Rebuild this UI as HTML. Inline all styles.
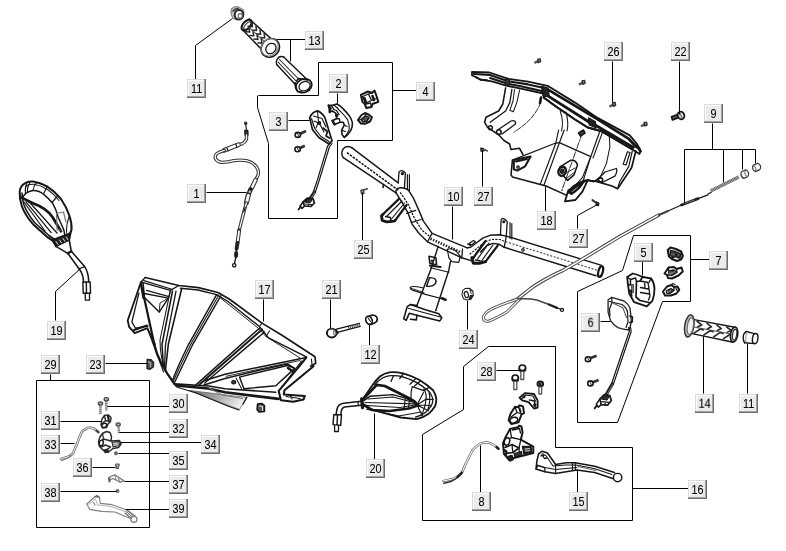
<!DOCTYPE html>
<html><head><meta charset="utf-8"><title>Parts diagram</title>
<style>
html,body{margin:0;padding:0;background:#fff;}
svg{display:block;will-change:transform}
text{font-family:"Liberation Sans",sans-serif;font-size:12.6px;fill:#000;text-anchor:middle;stroke:#000;stroke-width:0.08px}
</style></head><body>
<svg width="786" height="551" viewBox="0 0 786 551">
<rect width="786" height="551" fill="#fff"/>
<!-- part 17 front cover -->
<defs><linearGradient id="g17" x1="0" y1="0" x2="1" y2="0.25"><stop offset="0" stop-color="#666"/><stop offset="0.55" stop-color="#aaa"/><stop offset="1" stop-color="#eee"/></linearGradient></defs>
<g fill="none" stroke="#161616" stroke-width="1.30" stroke-linejoin="round" stroke-linecap="round">
<path d="M190,390.5 L247,397.5 L239.5,409.5 L215,400.5 Z" fill="url(#g17)" stroke="#666" stroke-width="0.78"/>
<!-- outer top edge -->
<path d="M145.2,277.5 L178.8,285.5 L198.4,287.6 L218,292.5 L230,299.5 L262,323.1 L281.6,335 L315,356.8 L315.7,363.3 L310.6,366.2" stroke-width="1.69"/>
<path d="M180.5,288.2 L198,290 L216.6,294.6 L228,301.5 L259.4,326.5 L268.5,337.9 L306.3,356.8" stroke-width="1.43"/>
<path d="M219,296.8 L258,328 L266,336.5 L300,358" stroke-width="0.91"/>
<path d="M262,323.1 L259.4,326.5 M269.6,330.7 L266,336.5" stroke-width="1.04"/>
<path d="M311.4,359 L312.1,365.5" stroke-width="1.17"/>
<!-- tip Y -->
<path d="M306.3,357.5 L297.6,368.4 L278.7,390.9 L280.9,400.3 L293.2,401.8 L303.4,399.6 L304.8,396 L283.8,394.5 L284.5,390.2 L313.5,366.2" stroke-width="2.08"/>
<path d="M301.5,361 L281,388.5" stroke-width="1.17"/>
<path d="M286,396.5 L300,398.5 M290,395 L292,399" stroke-width="1.04"/>
<!-- top-left box -->
<path d="M145.2,277.5 L141,282 L143.1,282.7 L170.4,290.4 L178.8,285.5"/>
<path d="M143.8,280.6 L171.1,289"/>
<path d="M141,282 L127.7,320.5 L129.1,326.8 L134.7,333.1 L147.3,328.2 L155,344.3" stroke-width="1.82"/>
<path d="M138.9,293.2 L131.9,321.9 L135.4,328.2 L148,326.1" />
<path d="M134,330 L147,325.5" stroke-width="2.08"/>
<path d="M143.1,282.7 L143.1,293.2 L168.3,298.1 L159.2,312.1 L144.5,297.4 Z" stroke-width="1.43"/>
<path d="M146.6,290.4 L169,296.7 L170.4,290.4"/>
<path d="M159.2,312.1 L160,303 L168.3,298.1" stroke-width="0.91"/>
<path d="M143.1,293 L154.3,344.3 Q158,362 174.5,384" stroke-width="2.21"/>
<path d="M141,284 L143.5,298" stroke-width="2.34"/>
<path d="M147.3,328.2 L163.6,372" stroke-width="1.17"/>
<!-- left band -->
<path d="M172.5,291.1 L162,344.3 L163.3,366" stroke-width="1.56"/>
<path d="M176,291.1 L165.5,344.3 L164.5,368"/>
<path d="M181.6,289 L168.3,344.3 L165.5,370" stroke-width="1.56"/>
<path d="M170.4,290.4 L160,340 Q160,358 166,372" stroke-width="1.04"/>
<!-- spoke 2 -->
<path d="M216.6,294.6 L188.6,344.3 Q178,366 172.4,380.4" stroke-width="1.43"/>
<path d="M218.8,295 L190.8,344.3 Q180,366 173.5,381" stroke-width="1.04"/>
<path d="M220.8,295.8 L192.8,344.3 Q182,367 174.8,382" stroke-width="1.43"/>
<!-- spoke 3 -->
<path d="M259.4,328.2 L196.2,384.6" stroke-width="1.43"/>
<path d="M262,329.5 L199.5,384.4" stroke-width="1.95"/>
<path d="M264.5,332 L204.7,383" stroke-width="1.43"/>
<!-- spoke 4 -->
<path d="M306.3,357.5 L260,367 L225,374.2 L205,380.5" stroke-width="1.56"/>
<path d="M294.7,368.4 L287.4,364 L260,370 L225,378.5 L204,385" stroke-width="1.56"/>
<path d="M300,360.5 L262,368.5 L226,376.3" stroke-width="0.91"/>
<!-- bottom edge -->
<path d="M174.5,383.9 L208.8,386 L225,388.7 L275.8,392.3" stroke-width="1.56"/>
<path d="M176,385.5 L208,388.5 L225,392.3 L278.7,398.9" stroke-width="2.60"/>
<path d="M176.6,387 L196.2,393 L228.4,406.3 L239,410" stroke-width="1.04"/>
<path d="M208.8,388 L222.8,395.1 L242.4,398.6" stroke="#777" stroke-width="1.04"/>
<!-- lower right triangle -->
<path d="M239.5,377.1 L287.4,365.5 L294.7,368.4 L275.8,385.8 L243.9,388.7 Z" stroke-width="1.43"/>
<path d="M236,378 L241.5,388.5" stroke-width="1.04"/>
<path d="M288,368 L293,371.5" stroke-width="2.60"/>
<ellipse cx="233.7" cy="382.2" rx="2.1" ry="1.7" fill="#333" stroke-width="1.04"/>
<path d="M246.8,397.4 L243,404" stroke-width="1.30"/>
<!-- clip -->
<path d="M257.5,404 L262,403.5 L264.5,405.5 L264.5,411.5 L259,412 L257,409.5 Z" fill="#555" stroke="#111" stroke-width="1.43"/>
<path d="M259.5,406 L262.5,406.5 L262.5,410.5" stroke="#ddd" stroke-width="1.04"/>
</g>
<!-- part 18 rear cover -->
<g fill="none" stroke="#161616" stroke-width="1.30" stroke-linejoin="round" stroke-linecap="round">
<!-- rim -->
<path d="M472,72 L489.5,72.5 L508.4,78.8 L528,81.6 L547.6,85.8 L575,102.6 L597.6,117.9 L629.8,135.4 L636.8,143.8 L640.3,150 L639.5,154 L631.6,149 L601.4,131.2 L587.8,127.5 L575,119.5 L556,106.5 L543.9,97.8 L543.4,93.5 L521,88.6 L507,85.8 L493,81.6 L480.4,79.5 L472,75.3 Z" fill="#fff" stroke-width="1.82"/>
<path d="M474,74 L490,75 L508,81.2 L528,84.4 L546.5,88.5" stroke-width="2.08"/>
<path d="M490,78 L507,83.5 L522,86.5 L543.9,91.5" stroke-width="1.95"/>
<path d="M548.4,89.8 L597.3,119.2 L628.1,138.3 L636.5,147" stroke-width="2.73"/>
<path d="M543.9,93.4 L590.2,122.7 L594.2,124.5 L633.4,147.4" stroke-width="2.86"/>
<path d="M543.9,97.8 L556,106.5 L575,119.5 L587.8,127.5 L601.4,131.2 L631.6,149" stroke-width="1.95"/>
<path d="M541.5,86.2 L548.2,88 L549.3,96.5 L543,96.5 Z" fill="#222" stroke-width="1.04"/>
<path d="M588.5,117.8 L595.5,121.8 L596,128 L589,124.8 Z" fill="#222" stroke-width="1.04"/>
<path d="M505.5,79 L509.5,80 L509.5,85.5 L505.5,84.8 Z" fill="#333" stroke-width="0.91"/>
<path d="M476,77 L481,80 L487,80" stroke-width="1.56"/>
<path d="M637,146 L640.6,151.5" stroke-width="2.60"/>
<!-- left flap -->
<path d="M505.6,87.9 L502.8,104 L498.6,111 L486,117.3 L484.6,122.2 L487.4,127.1 L498.6,134.8 L504,140.5 L509.6,144 L511,149.6 L519.4,148.2 L522.9,154.5" stroke-width="1.56"/>
<path d="M511.9,89.3 L509.8,102.6 L505.6,111 L490.2,122.2"/>
<path d="M519.6,90 L516.8,102.6 L513.3,111.7 L509.8,110.3 L513,101 L514.5,89.5" stroke-width="1.04"/>
<path d="M498.6,129.2 L511,121 Q516,119.5 515.5,124 L502,134" />
<circle cx="498.8" cy="132" r="2.3" stroke-width="1.56"/>
<circle cx="490.4" cy="127.8" r="2" stroke-width="1.43"/>
<path d="M540.6,102.6 Q534,120 514,132" stroke-width="0.91" stroke-dasharray="5 1.5"/>
<path d="M541,97.5 L540,103" stroke-width="2.60"/>
<!-- lower-left panel -->
<path d="M512.4,160.1 L555.1,143.3 L559.3,142.6 L590.8,156.6" stroke-width="1.17"/>
<path d="M512.4,160.1 L511,174.8 L512.4,176.9 L546,186 L566.3,195.1" stroke-width="1.56"/>
<path d="M513.8,160.1 L530.6,156.6 L525,166.4 L517.3,170.6 L513.8,169.2 Z" stroke-width="2.08"/>
<path d="M516,161.5 L527,159 " stroke-width="2.08"/>
<circle cx="518" cy="167" r="1.2"/>
<path d="M558.6,130 L555.8,143.3 L540.4,183.9" stroke-width="1.17"/>
<path d="M564.2,130 L559.3,143 L543.9,185.3" stroke-width="1.17"/>
<path d="M560.2,111 Q564,122 561.5,131 M566,112 Q569,124 567,131" stroke-width="1.04"/>
<!-- knob -->
<ellipse cx="562.1" cy="171.3" rx="3.6" ry="4.6" transform="rotate(20 562.1 171.3)" stroke-width="2.47"/>
<ellipse cx="562.1" cy="171.3" rx="1.3" ry="1.9" transform="rotate(20 562.1 171.3)" fill="#444" stroke-width="1.69"/>
<path d="M560,166.8 L570.5,160.3 Q576,159.5 577.5,165 L574,174.8 L567.7,180.4 L563.5,176" stroke-width="1.56"/>
<path d="M566,173 L575,168 M567,178 L573.5,173" stroke-width="0.91"/>
<path d="M582.4,132.8 L561.4,191.6" stroke-width="0.91" stroke-dasharray="6 1.5 1.5 1.5"/>
<!-- clip on rim underside -->
<path d="M578.5,133 L583.5,130 L585,133 L580.5,136 Z" fill="#444" stroke-width="1.56"/>
<!-- right tab -->
<path d="M568.4,190.2 L588,179.7 L582.4,191.6 L575.4,200 L564.9,201.4 Z" stroke-width="1.82"/>
<path d="M568.6,191.5 Q574,184.5 583.5,181.3 Q580,188.5 571.5,193.8 Z" fill="#fff" stroke-width="2.47"/><path d="M571,191.5 Q576,186.5 581,184" stroke-width="1.43"/>
<path d="M588,179.7 L593.6,181.8 L600,177.6" stroke-width="1.56"/>
<!-- right side -->
<path d="M590.8,156.6 L582.4,177.6 L566.3,195.1" stroke-width="1.17"/>
<path d="M600.4,129.8 L590.3,158 L583.3,180.4" stroke-width="1.17"/>
<path d="M603,131 L593,158" stroke-width="1.04"/>
<path d="M609.2,132.8 L609.9,146.8 L606.4,163.6 L600,177.6" stroke-width="1.04"/>
<path d="M635.8,151 L631.6,167.8 L617.6,188.8 L612,186 L595.2,181.1 L584,180.4 L570,190.2" stroke-width="1.69"/>
<path d="M632.3,151 L628.8,166.4 L619.7,181.8 L618,187" stroke-width="1.17"/>
<path d="M627.4,151.7 L630,152.5 L626,165 L623.2,164.3 Z" stroke-width="1.17"/>
<path d="M616.2,168.5 L605,172 L597.3,179.7 L602.2,182.5 L614.8,176.2 Q618,171 616.2,168.5 Z" stroke-width="1.30"/>
<circle cx="600.5" cy="180.1" r="2.2" stroke-width="1.56"/>
</g>
<!-- part 10 handlebar -->
<g fill="none" stroke="#161616" stroke-width="1.30" stroke-linejoin="round" stroke-linecap="round">
<!-- left tube -->
<path d="M351.7,147.6 L398.2,182.9 M343.3,157.6 L396,192.8" stroke-width="1.43"/>
<path d="M351.7,147.6 Q346,144.8 343,149.2 Q340.5,154 343.3,157.6" stroke-width="1.43"/>
<path d="M347.5,153 L398,190" stroke-width="1.56" stroke-dasharray="1.2 2.4"/>
<path d="M383.5,184.5 L383,187.5" stroke-width="1.56"/>
<!-- left tab -->
<path d="M398.2,182.9 L399,172.2 Q401.5,168.5 405.4,173 L404.4,188.2" stroke-width="1.30"/>
<circle cx="402.4" cy="173.6" r="1" fill="#222"/>
<path d="M407.4,174.5 L407.4,189.8 M409.4,174.5 L409.4,191" stroke-width="1.17"/>
<!-- bend -->
<path d="M396,192.8 Q395.5,189 398.2,188.2 Q403,187 408.2,189.8 L413.5,198.2 L418.9,210.4 L423.4,221.1 L432.1,233.4 L467.2,247.9" stroke-width="1.43"/>
<path d="M396,192.8 L402.8,203.5 L408.2,213.4 L412,224.1 L418.9,233.3 L427.5,241.8 L461.8,257.8" stroke-width="1.43"/>
<path d="M400.5,192.8 L408.2,204.3 L414.3,218 L421.9,230.2 L429.5,236.3" stroke-width="1.30" stroke-dasharray="1.2 2.2"/>
<path d="M430.5,238.7 L461.1,252.5" stroke-width="2.60" stroke-dasharray="1.4 1.4" stroke-linecap="butt"/>
<path d="M406.6,213.4 L415.8,210.4 M411.2,222.6 L421.1,219.5 M427.5,241.8 L432.1,233.4 M461.8,257.8 L462.5,249" stroke-width="1.30"/>
<!-- left brace -->
<path d="M399,198.9 L383,214.2 M406.6,205 L395.2,220.3" stroke-width="2.21"/>
<path d="M402,201 L387,216 M404.5,203 L391.5,219" stroke-width="1.17"/>
<path d="M383,214.2 L381.5,215.7 L382.2,220.3 L386.8,221.8 L394.4,221.1 L395.2,220.3" stroke-width="2.86"/>
<path d="M385.5,216.5 L390.5,217.5 L390.5,221" stroke-width="1.30"/>
<!-- elbow to right tube -->
<path d="M467.2,247.9 L470.6,247.3 L476.3,243 L482.8,238.1 L490,235.3 L499.2,234.7 L506.3,236.1" stroke-width="1.43"/>
<path d="M461.8,257.8 L471.8,260.9" stroke-width="1.43"/>
<path d="M480.5,252 L486.9,245.5 L493,243.4 L499,244.2 L504.2,247.3" stroke-width="1.43"/>
<path d="M470,254 L478,247.5 L484.5,242 L492,239.3 L500,239.5 L505.5,241.8" stroke-width="1.17" stroke-dasharray="1.2 2.2"/>
<!-- right tab -->
<path d="M500.5,235 L501.1,219.8 Q503,216.5 507.2,221.7 L506.3,236.1" stroke-width="1.30"/>
<circle cx="503.8" cy="221.8" r="0.9" fill="#222"/>
<path d="M510,222.6 L510,238.5 M511.8,223.5 L511.8,239" stroke-width="1.17"/>
<!-- right brace -->
<path d="M485.5,241 L473.3,257.8 M497.7,245.6 L485.5,261.6" stroke-width="2.21"/>
<path d="M489,243 L477.5,259 M493,245 L481.5,261" stroke-width="1.17"/>
<path d="M473.3,257.8 L471.8,257.8 L473.3,263.2 L479.4,263.2 L485.5,261.6" stroke-width="2.99"/>
<path d="M475.5,260 L480,260.8" stroke-width="1.56"/>
<!-- right tube -->
<path d="M506.3,236.1 L601.7,265.4 M504.2,247.3 L596,275.8" stroke-width="1.43"/>
<path d="M506.3,236.1 L504.2,247.3" stroke-width="1.30"/>
<path d="M506,241.8 L597,270.2" stroke="#444" stroke-width="1.10" stroke-dasharray="1.2 2.4"/>
<ellipse cx="600.6" cy="271.6" rx="2.2" ry="5.5" transform="rotate(15 600.6 271.6)" fill="#fff" stroke-width="2.21"/>
<circle cx="523" cy="249.9" r="1.2" stroke-width="1.17"/>
<!-- stem -->
<path d="M438.2,246.4 L430.6,270 L416.9,305.6 M450.4,261.6 L448.9,270 L435.7,310.7" stroke-width="1.43"/>
<path d="M429,256.3 L435.9,257.8 L436.6,264.7 L429.8,263.2 Z" stroke-width="1.56"/>
<circle cx="432" cy="260.9" r="1" stroke-width="1.04"/>
<path d="M429.8,265.5 L440.5,267" stroke-width="1.95"/>
<path d="M430.5,267.7 L448.9,272.3" stroke-width="1.04"/>
<path d="M429.6,277.6 Q437.5,277.5 435.7,283.2 Q433,287 426.6,286.3 Z" stroke-width="1.43"/>
<path d="M447.3,249.4 L448.9,257.8 L451.9,261.6 L458.8,262.4 L460.3,256.3" stroke-width="1.17"/>
<path d="M447.3,249.4 Q452,247.5 456,251 L460.3,256.3" stroke-width="1.17"/>
<!-- ring clip -->
<path d="M422.5,287.8 Q412,285.5 410.3,287.3 Q410,289.5 413.3,290.4 L425.5,294.4 L444.9,299.5" stroke-width="1.17"/>
<path d="M411.5,288.5 L424,292.5" stroke-width="0.91"/>
<path d="M442,298.3 L445.5,299.7" stroke-width="2.60"/>
<!-- base -->
<path d="M416.9,305.6 L410.3,304.6 L407.2,306.6 L403.7,318.9 L406.2,320.4 L409.2,313.3 L416.9,315.3 L416.4,319.9 L410.5,319.3" stroke-width="1.56"/>
<path d="M410.3,304.6 L425.5,309.7 L438.8,313.8 L441.8,317.8 L439.8,320.9 L416.9,315.3" stroke-width="1.56"/>
<path d="M408.2,308.2 L424.5,312.7 L440.5,317" stroke-width="1.17"/>
<!-- screw on top -->
<path d="M469,243.5 L473.5,240.5 L475.5,241.8 L471.5,245 Z M467.5,244 L470.5,245.5" stroke-width="1.17"/>
</g>
<!-- nut 24 -->
<g fill="none" stroke="#222" stroke-width="1.04" stroke-linejoin="round">
<path d="M465,288.6 L469.5,288.2 L472.8,291 L473.3,295.5 L470.8,299.3 L467,300 L463.5,298.8 L462,294.5 L462.6,290.6 Z" fill="#fff"/>
<path d="M470.5,295.5 L473.2,295.3 L470.8,299.3 L469.3,298.5 Z" fill="#222"/>
<path d="M469.5,288.2 L470,290.5 L472.8,291 M470,290.5 L471.5,294" stroke-width="0.91"/>
<ellipse cx="466.4" cy="294.6" rx="2" ry="3.1" transform="rotate(-15 466.4 294.6)" fill="#fff" stroke-width="1.30"/>
</g>
<!-- mirror 19 -->
<g transform="translate(0,1)" fill="none" stroke="#161616" stroke-width="1.30" stroke-linejoin="round" stroke-linecap="round">
<path d="M19.7,191 Q20,185 24.6,182.6 Q28,180 33,180.5 Q40,181.5 47,185.4 Q55,190.5 61,198 Q66.5,206 69.4,214.8 Q72,222.5 71.5,228.8 Q70.5,233.5 66.6,235.8 L55.4,241.4 L47,235.8 L33,223.2 Q25,214 21.8,205 Q19.5,198 19.7,191 Z" stroke-width="2.02"/>
<path d="M22,192 Q22,197.5 24,204 Q27.5,213 35,222 L49,234.5 L56,239.5" stroke-width="1.56"/>
<path d="M23.2,195.2 Q27,190.5 33,189.6 Q39,189.5 44.2,193.8 Q49,197.5 52.6,202.2 Q56,208 58.2,216.2 L63.8,228.8 L65.2,235.8" stroke-width="1.49"/>
<path d="M21.8,196.6 Q27,199.5 33,202.2 Q39,204.5 44.2,207.8 Q49,211 52.6,216.2 L61,230.2" stroke-width="2.73"/>
<path d="M26,200.8 L51.2,231.6 M28,199.5 L57,232 M24,201 L45,230" stroke-width="1.23"/>
<path d="M30,181.5 Q27,186 27.5,191.5 M36.5,181.5 Q33.5,185.5 33,189.5 M47,185.8 L43.5,193 M58,194.5 L52,201.5" stroke-width="1.17"/>
<path d="M26.5,183.5 Q24.5,188.5 25.5,193" stroke-width="1.17"/>
<path d="M56.5,212.5 L63.5,211 L66,221 M56.5,212.5 L57,229 L62,229" stroke="#777" stroke-width="1.17"/>
<path d="M69.4,214.8 Q66,224 66.6,232" stroke-width="1.04"/>
<path d="M25.5,185.5 Q29,182.8 34,183.3 Q41,184.5 47.5,188.5 Q54,193 59,199.5" stroke-width="1.04"/>
<!-- collar -->
<path d="M52.4,239 L70.6,232 L69.2,239 L55.9,245.3 Z" fill="#222" stroke-width="1.82"/>
<path d="M56,240.5 L58,243.5 M59.5,239 L61.5,242 M63,237.5 L65,240.5 M66.5,236 L68,239" stroke="#eee" stroke-width="0.91"/>
<!-- neck & stem -->
<path d="M55.9,245.3 L67.8,252.3 L79,267.7 Q83.5,273 83.5,281" stroke-width="1.56"/>
<path d="M69.2,239 L71.3,250.2 L84.6,265.6 Q88.5,271 88.8,281" stroke-width="1.56"/>
<path d="M67.8,252.3 L71.3,250.2" stroke-width="2.34"/>
<path d="M79,267.7 L84.6,265.6" stroke-width="1.17"/>
<path d="M82.9,281 L90.2,281 L90.5,292.2 L83.2,292.2 Z M86.3,281 L86.5,292.2" stroke-width="1.43"/>
<path d="M85.3,292.2 L85.3,299.2 L89.5,299.2 L89.5,292.2" stroke-width="1.30"/>
</g>
<!-- mirror 20 -->
<g fill="none" stroke="#161616" stroke-width="1.30" stroke-linejoin="round" stroke-linecap="round">
<path d="M361.9,400.4 L372.2,385.5 Q376,380 380.2,376.3 Q384.5,373 389.4,372.3 Q396,371.8 403.1,373.4 Q411.5,375.8 419.1,379.7 Q427,384.5 432.9,390 Q435.5,394 436.3,398.1 Q436.5,402.5 435.2,406.1 Q432.5,410.5 428.3,414.1 Q423,417.8 416.8,419.2 L400.8,417.5 L383.6,412.9 L368.7,408.4 L362.4,403.8 Z" stroke-width="1.82"/>
<path d="M374.5,384.9 Q378,380.5 382.5,378 Q386.5,376 390.5,375.7 Q397,375.3 403.5,377 Q410.5,379 416.8,382.6 Q424,386.8 429.4,391.8 Q432,395.5 432.9,399.2 Q432.8,403 431.1,406.1 Q428.5,410 424.9,412.9 Q420.5,415.8 415.7,417" stroke-width="1.30"/>
<path d="M363,399.2 L376.8,384.9 L384.8,386 L396.2,391.8 L407.7,397.5 L414.5,401.5 L417.4,404.9" stroke-width="2.73"/>
<path d="M364.2,400.4 L369.9,396.3 L392.8,394.6 L405.4,398.1 L414.5,402.6 L416.8,405.5" stroke-width="1.43"/>
<path d="M364.2,404.9 L372.2,410.1 L389.4,410.9 L408.8,408.6 L416.8,405.8" stroke-width="2.47"/>
<path d="M365,402.5 L415.5,403.8 M368,399 L393,397 L412,402 M367,405.5 L400,407.5 L415,405" stroke-width="1.17"/>
<path d="M405.4,398.1 L404,408.8 M409.5,400 L408.5,408.4" stroke-width="1.17"/>
<path d="M366.6,409.3 L398.7,416 L421,412" stroke-width="1.17"/>
<path d="M417,405 L425.9,399.2 L433,399.5 M417,405 L428.5,410.8 M417,405 L423.5,392.5 M417,405 L422.5,416 M417,405 L431,405.5" stroke-width="1.17"/>
<path d="M412.3,386.6 Q410.5,392 411.1,398.1 M423.7,388.9 Q427,394 425.9,399.2 Q425.5,408 421,415.5 M429,392.5 Q431,400 428,409" stroke-width="1.17"/>
<path d="M399.7,378.6 L403.1,374 M410,384.3 L415.7,378.6 M414.5,386 L420.3,380.9 M423.7,390.6 L429.4,387.2 M391,381.5 L393.5,375.8" stroke-width="1.30"/>
<path d="M412.3,386.6 L423.7,390.6" stroke-width="1.17"/>
<!-- stem -->
<path d="M361.3,401.2 L343.7,403.2 Q338,404 336.9,409.3 L336.1,414.7" stroke-width="1.56"/>
<path d="M361.3,405.2 L344.5,407 Q341,408 340.8,414.7" stroke-width="1.56"/>
<path d="M361.7,399 L362.6,407.5" stroke-width="3.38"/>
<path d="M358,401.5 L358.3,405.5" stroke-width="1.17"/>
<path d="M333.8,414.7 L341.5,414.7 L340.7,425.4 L333,424.6 Z M337.5,414.7 L337,425" stroke-width="1.43"/>
<path d="M334.6,425.4 L334.6,431.5 L338.4,431.5 L338.6,425.4" stroke-width="1.30"/>
</g>
<!-- cap 11 top -->
<g fill="none" stroke="#161616" stroke-width="1.30" stroke-linejoin="round" stroke-linecap="round">
<path d="M231.5,9 Q234,5.8 238,6.8 L243.5,10 Q244.5,14 242,18.5 Q238,20.5 234,18.8 Q230,15 231.5,9 Z" fill="#c8c8c8" stroke="#888" stroke-width="1.30"/>
<ellipse cx="239" cy="14.8" rx="4.3" ry="4.8" fill="#fff" stroke="#222" stroke-width="1.95"/>
<ellipse cx="240.2" cy="15.9" rx="2" ry="2.3" fill="#fff" stroke="#666" stroke-width="1.17"/>
<path d="M233,11 Q235,8.5 238,8.5" stroke="#333" stroke-width="1.56"/>
</g>
<!-- grip 13 -->
<g fill="none" stroke="#161616" stroke-width="1.30" stroke-linejoin="round" stroke-linecap="round">
<path d="M249.3,19 L271,38.6 M243,30.2 L261.9,49.8" stroke-width="1.43"/>
<ellipse cx="246.6" cy="25" rx="3.6" ry="6.4" transform="rotate(42 246.6 25)" stroke-width="2.08"/>
<ellipse cx="247.8" cy="26" rx="2.6" ry="5" transform="rotate(42 247.8 26)" stroke-width="1.04"/>
<path d="M247.5,26.1 L265.3,42.1" stroke-width="1.04" stroke="#555"/>
<path d="M251.9,22.7 L252.5,26.8 L248.6,26.3 M249.0,28.2 L249.7,32.1 L245.7,31.8 M255.9,26.4 L256.6,30.5 L252.7,30.0 M253.0,31.9 L253.8,35.8 L249.8,35.5 M260.0,30.1 L260.7,34.2 L256.8,33.7 M257.1,35.6 L257.9,39.5 L253.9,39.1 M264.1,33.8 L264.8,37.9 L260.9,37.4 M261.2,39.2 L262.0,43.2 L258.0,42.8" stroke-width="1.49" stroke="#2a2a2a"/>
<ellipse cx="270.3" cy="47.9" rx="8.8" ry="9.8" transform="rotate(42 270.3 47.9)" fill="#fff" stroke-width="1.56"/>
<ellipse cx="269.6" cy="47.3" rx="8" ry="9.2" transform="rotate(42 269.6 47.3)" stroke="#888" stroke-width="1.04"/>
<ellipse cx="270.9" cy="48.5" rx="4.7" ry="5.6" transform="rotate(42 270.9 48.5)" stroke-width="1.30"/>
<!-- sleeve -->
<path d="M283.7,56.9 L306.8,79.3 M276.7,64.6 L296.3,85.6" stroke-width="1.43"/>
<path d="M283.7,56.9 Q279,55.5 277,59.5 Q275.5,62.5 276.7,64.6" stroke-width="1.43"/>
<path d="M279.5,59.5 L301,81.5 M278,62 L298.5,83.5" stroke-width="1.04"/>
<ellipse cx="303.8" cy="85.8" rx="8.3" ry="6.6" transform="rotate(-25 303.8 85.8)" fill="#fff" stroke-width="1.69"/>
<ellipse cx="304.6" cy="86.2" rx="5.8" ry="4.5" transform="rotate(-25 304.6 86.2)" stroke-width="1.30"/>
<path d="M296.5,81 L298.5,78.5 L308,80 M296.3,88 L297.5,91.5 L301.5,92" stroke-width="1.43"/>
<path d="M295,83 L296,88" stroke-width="2.08"/>
</g>
<!-- grip 14 -->
<g fill="none" stroke="#161616" stroke-width="1.30" stroke-linejoin="round" stroke-linecap="round">
<path d="M694.2,319.6 L734.8,327.3 M692.1,333.6 L732,342" stroke-width="1.43"/>
<ellipse cx="689.3" cy="325.9" rx="4.6" ry="11.2" transform="rotate(9 689.3 325.9)" fill="#bdbdbd" stroke="#333" stroke-width="1.43"/>
<ellipse cx="690.4" cy="326.1" rx="3" ry="8.4" transform="rotate(9 690.4 326.1)" fill="#f2f2f2" stroke="#666" stroke-width="1.04"/>
<path d="M693.1,326.9 L732.5,334.3" stroke="#666" stroke-width="1.17"/>
<path d="M697.2,321.5 L701.7,324.9 L697.7,326.8 M707.0,323.3 L711.5,326.8 L707.6,328.7 M716.9,325.1 L721.3,328.6 L717.4,330.5 M726.7,327.0 L731.1,330.4 L727.2,332.4 M694.0,333.1 L700.4,329.0 L703.3,329.9 M703.9,334.9 L710.2,330.8 L713.1,331.7 M713.7,336.7 L720.0,332.6 L722.9,333.6 M723.5,338.6 L729.9,334.5 L732.8,335.4" stroke="#2a2a2a" stroke-width="1.62"/>
<ellipse cx="734.1" cy="334.6" rx="3.6" ry="7.6" transform="rotate(9 734.1 334.6)" fill="#c4c4c4" stroke-width="1.56"/>
<ellipse cx="734.6" cy="334.7" rx="2" ry="5.4" transform="rotate(9 734.6 334.7)" fill="#fff" stroke="#333" stroke-width="1.17"/>
</g>
<!-- cap 11b -->
<g fill="none" stroke="#161616" stroke-width="1.43" stroke-linejoin="round" stroke-linecap="round">
<path d="M746,331.5 L754.4,333.6 M744.6,342.7 L754.4,343.6"/>
<ellipse cx="755.2" cy="338.6" rx="2.7" ry="5.1" transform="rotate(8 755.2 338.6)"/>
<path d="M746,331.5 Q743,334 743.2,337.8 Q743.2,341 744.6,342.7"/>
<path d="M747.2,332.5 Q745,336 746,342" stroke="#999" stroke-width="1.04"/>
</g>
<!-- part 3 -->
<g fill="none" stroke="#161616" stroke-width="1.30" stroke-linejoin="round" stroke-linecap="round">
<path d="M309.7,117.9 Q312,112 317.4,110.9 Q322,112.5 325.1,117.9 L328.6,129.8 L332.1,141 L328.6,143.8 L318.8,137.5 L312.5,129.8 Z" stroke-width="1.69"/>
<path d="M311.5,118.5 Q313,124 315,129 L321,136.5 L329,141.5" stroke-width="1.17"/>
<path d="M313.5,116 L322,118.5 L326,127 M314,121 L319.5,123.5 L324,132" stroke-width="1.17"/>
<path d="M317.4,110.9 L318.5,122 L316,128" stroke-width="1.04"/>
<circle cx="319.3" cy="123" r="1.3" fill="#222"/>
<path d="M323,128 L327.5,131.5 L326,136 L329.5,138" stroke-width="1.69"/>
<path d="M330.5,143 L327.6,146 L316.8,181.8 L313.4,191.8" stroke-width="1.17"/>
<path d="M332.1,143.5 L329.4,147 L318.4,183 L315.2,192.5" stroke-width="1.17"/>
<path d="M314.3,192.3 L309,200.5" stroke="#222" stroke-width="3.38"/>
<path d="M314.5,193 L310,200" stroke="#ddd" stroke-width="0.65" stroke-dasharray="1 1.2"/>
<g transform="translate(-1.5,2.5)">
<path d="M304.5,199.5 L309,195.5 L314.5,196 L316,200.5 L312.5,204 L306,203.5 Z" fill="#fff" stroke-width="1.69"/>
<path d="M306,199.5 L309.5,196.6 L313.8,197 L311.5,200.3 Z" fill="#333" stroke-width="1.04"/>
<path d="M304.5,199.5 L301.5,203.5 L303.5,206 L306,203.5" stroke-width="1.56"/>
<path d="M306.5,201.5 L313.5,202 M310,201.7 L309.7,204" stroke-width="1.17"/>
<path d="M302,204.5 L300,207" stroke-width="1.82"/>
</g>
<!-- screws -->
<path d="M299.8,133.9 L306.0,131.0" stroke="#333" stroke-width="2.73" stroke-linecap="butt"/><ellipse cx="297.8" cy="134.9" rx="2.7" ry="2.5" fill="#fff" stroke-width="1.56"/><path d="M297.3,133.1 L299.0,136.9" stroke-width="0.91"/>
<path d="M299.6,148.2 L304.8,145.7" stroke="#333" stroke-width="2.73" stroke-linecap="butt"/><ellipse cx="297.6" cy="149.2" rx="2.7" ry="2.5" fill="#fff" stroke-width="1.56"/><path d="M297.1,147.4 L298.8,151.2" stroke-width="0.91"/>
</g>
<!-- part 2 -->
<g fill="none" stroke="#161616" stroke-width="1.30" stroke-linejoin="round" stroke-linecap="round">
<path d="M328.6,105.6 L333.5,105 L336.8,103.9 Q340.5,105.5 343.2,108.8 Q347,112.5 349.7,116.4 Q351.8,119.5 352.4,122.9 Q352.6,127 350.8,130.4 Q348.5,134.5 344.3,137.5 L342.2,134.8 L341.6,130.4 L344.3,125 L343.2,122.3 L340,122.3 L334.6,124.5 L332.4,120.7 L336.8,118.5 L335.7,113.1 L332.4,111 L329.7,112.1 Z" stroke-width="1.62"/>
<path d="M333.5,105 Q336.5,106.5 338.9,109.9 Q344,114.5 347.6,119.6 Q349.5,124.5 349.2,129.4 Q348,133 345.4,135.8" stroke-width="1.17"/>
<path d="M328.6,105.6 L330.5,108.5 L329.7,112.1" stroke-width="2.34"/>
<path d="M331.5,106 L334,109.5 L336.5,110.5 L339,114.5 M336.8,118.5 L339.5,119 L340,122.3" stroke-width="1.30"/>
<circle cx="336.8" cy="115.2" r="1.1" fill="#222"/>
<path d="M332.4,120.7 L334.6,124.5" stroke-width="2.34"/>
<path d="M344.3,125 L347,126.5 M341.6,130.4 L345.5,131.5" stroke-width="1.17"/>
</g>
<!-- switch A, B (group 4) -->
<g fill="none" stroke="#161616" stroke-width="1.30" stroke-linejoin="round" stroke-linecap="round">
<path d="M360.8,94.8 L368,91.5 L372,93 L374.5,90.5 L376,94.5 L378.3,101.8 L372.5,104 L371.5,107 L366.4,108 L364.5,103.5 L362.5,102 Z" stroke-width="1.95"/>
<path d="M362.5,96.5 L368.5,94 L371.5,100.5 L365.5,103 Z M368.5,94 L372,93 M371.5,100.5 L376.5,98.5 M366,104 L370.5,103 L371.5,107" stroke-width="1.30"/>
<path d="M364.3,98 L365.8,101.7 M372.5,96 L374,100" stroke-width="2.47"/>
<path d="M358,120 L361.5,115 L365,113 L368.5,114.5 L372,117.2 L370,121.5 L365,123.8 L361,123.5 Z" stroke-width="1.95"/>
<path d="M361.5,119.5 L365.5,116 L369,117.5 L367,121 L363,122 Z" stroke-width="1.69"/><path d="M363.5,119.5 L366,117.8 L367.5,118.6 L366,120.6 Z" fill="#666" stroke-width="0.91"/>
<path d="M358,120 L361.5,119.5 M365,113 L365.5,116" stroke-width="1.17"/>
</g>
<!-- part 5 -->
<g fill="none" stroke="#161616" stroke-width="1.30" stroke-linejoin="round" stroke-linecap="round">
<path d="M627.2,277 L632.8,273.5 L638,275 L642.6,277 L651,278.4 Q654,282 654.5,288.2 Q654.5,295 652.4,300.8 L646.8,306.4 L634.2,302.2 L629.3,293.8 L627.9,284 Z" stroke-width="1.82"/>
<path d="M642.6,277 L640,281 L636.5,281.5 L636,297 L640,300.5 L649,302.5" stroke-width="1.69"/>
<path d="M640,281 L648,282.5 L650,296 L648.5,300 M640.5,287.5 L648.5,289 M640.5,292.5 L649.5,294 M644.5,282 L645,288" stroke-width="1.30"/>
<path d="M651,278.4 L649,282.5" stroke-width="1.30"/>
<path d="M627.2,277 L630.5,279.5 L635.5,278 L636.5,281.5 M630.5,279.5 L630.5,285 L628,285" stroke-width="1.43"/>
<path d="M631.5,284.5 L633.5,284.5 L633.5,292.5 L631.5,292.5 Z" fill="#777" stroke="#555" stroke-width="1.04"/>
<path d="M628.8,290.5 L631,290.8 L631.5,296" stroke-width="1.95"/>
</g>
<!-- switches C, D, E (group 7) -->
<g fill="none" stroke="#161616" stroke-width="1.30" stroke-linejoin="round" stroke-linecap="round">
<path d="M667.8,250 L670.5,247.5 L676,249 L681,251.5 L682.8,256 L681,259.5 L677,261 L672,259 L669,256.5 Z" stroke-width="2.21"/><path d="M671.5,252 L675,252.7 L675.8,255.5 L673,256.3 Z" fill="#555" stroke-width="0.91"/><path d="M678,253 L680,254.2 L679.6,257 L677.8,256.6 Z" fill="#777" stroke-width="0.91"/>
<path d="M670.5,250.5 L675.5,251.5 L677,256 L673,257.5 L670.5,255 Z M677,252 L680.5,254 L680,258 L677,257.5 M672,259 L672.5,256.5" stroke-width="1.43"/>
<path d="M664.5,273.5 L668.5,267.5 L674,267 L676.5,269 L681.5,267.5 L682.8,271.5 L678.5,275.5 L672,278.5 L668,278 L667,275 Z" stroke-width="1.95"/><path d="M670,272 L673.5,271.3 L675.3,272.8 L672,274.6 Z" fill="#777" stroke-width="0.91"/>
<path d="M668.5,271 L674,270 L677,272.5 L672,275.5 L669,275 Z M668.5,267.5 L668.5,271 M676.5,269 L677,272.5 M667,275 L669,275" stroke-width="1.30"/>
<path d="M663,291.5 L667,286.5 L671.5,285 L674,287 L677.5,286.5 L679.3,290 L676.5,293.5 L671,295.5 L665,295.5 Z" stroke-width="1.95"/><path d="M668,290.8 L670.8,289.6 L672.6,290.8 L670,292.6 Z" fill="#777" stroke-width="0.91"/>
<path d="M666.5,290.5 L671,288.5 L674,290.5 L670,293.5 L666.5,293 Z M674,287 L674,290.5 M676,288.5 L677.5,291.5" stroke-width="1.30"/>
<path d="M671.5,285 L672.5,283.5 L675,284.5" stroke-width="1.30"/>
</g>
<!-- part 6 -->
<g fill="none" stroke="#161616" stroke-width="1.30" stroke-linejoin="round" stroke-linecap="round">
<path d="M608.1,299.8 L611.8,297.4 L624,301 Q628.5,304 630.1,308.4 L631.4,321.9 L629.2,330 Q623,329.5 617.9,327.6 Q613.5,325 610.5,320.6 L608.1,312 Z" stroke="#2a2a2a" stroke-width="1.37"/>
<path d="M609.5,301.5 L622,304.5 Q626.5,307.5 627.5,312 L628,322 L626,327.5" stroke-width="1.17"/>
<path d="M611.8,297.4 L612,302.5 L609.5,309 L610,316" stroke-width="1.17"/>
<path d="M612,302.5 L623,308 L626.5,317.5" stroke-width="1.04" stroke="#555"/>
<path d="M629.8,316 L632.5,317 L632.3,322 L629.5,322.5" stroke-width="1.43"/>
<path d="M628.5,327.5 L629.4,331 L614.2,375.8 L611.5,384" stroke-width="1.17"/>
<path d="M630.5,327 L631.2,331.5 L616,376.5 L613.3,384.5" stroke-width="1.17"/>
<path d="M612.3,384.2 L606.3,394.5" stroke="#222" stroke-width="3.38"/>
<path d="M612.6,385 L607.5,393.5" stroke="#ddd" stroke-width="0.65" stroke-dasharray="1 1.2"/>
<g transform="translate(-2.2,3.6)">
<path d="M602,395.5 L606.5,391 L612,392 L613.5,397 L610,401.5 L603.5,401 Z" fill="#fff" stroke-width="1.69"/>
<path d="M603.5,395.5 L607,392.2 L611.3,393 L609,396.5 Z" fill="#333" stroke-width="1.04"/>
<path d="M602,395.5 L598.5,400.5 L600.5,403.5 L603.5,401" stroke-width="1.56"/>
<path d="M604,398 L611,398.8 M607.5,398.2 L607.2,401.3" stroke-width="1.17"/>
<path d="M599,402 L596.8,404.8" stroke-width="1.82"/>
</g>
<!-- screws -->
<path d="M590.0,358.2 L596.6,355.8" stroke="#333" stroke-width="2.73" stroke-linecap="butt"/><ellipse cx="588.0" cy="359.2" rx="2.7" ry="2.5" fill="#fff" stroke-width="1.56"/><path d="M587.5,357.4 L589.2,361.2" stroke-width="0.91"/>
<path d="M592.4,382.4 L598.6,380.0" stroke="#333" stroke-width="2.73" stroke-linecap="butt"/><ellipse cx="590.4" cy="383.4" rx="2.7" ry="2.5" fill="#fff" stroke-width="1.56"/><path d="M589.9,381.6 L591.6,385.4" stroke-width="0.91"/>
</g>
<!-- cable 1 -->
<g fill="none" stroke="#161616" stroke-width="1.30" stroke-linejoin="round" stroke-linecap="round">
<path d="M245.7,123.2 L246.5,131" stroke-width="1.17"/>
<circle cx="245.7" cy="123.2" r="1.2" stroke-width="1.04"/>
<path d="M244.8,130.5 L247.8,130.5 L248,135 L245,135 Z" fill="#333" stroke-width="1.30"/>
<path d="M246.5,135 L246.5,139.2 Q245,142.5 241.7,144 L238.5,144.7" stroke="#333" stroke-width="3.38"/>
<path d="M246.5,135 L246.5,139.2 Q245,142.5 241.7,144 L238.5,144.7" stroke="#fff" stroke-width="1.30"/>
<path d="M238.5,144.7 L224.2,150.3" stroke="#333" stroke-width="4.68"/>
<path d="M238.5,144.7 L224.2,150.3" stroke="#fff" stroke-width="2.60"/>
<path d="M236,144.3 L237,147.5 M227,148 L228,151" stroke-width="1.17"/>
<path d="M224.2,150.3 Q219,152 217,153.5 Q214.5,155.5 215.4,158.3 Q216.5,161.5 221,162.3 Q227,162.5 233.8,160.7 Q240,159.5 246.5,160.7 Q252.5,162 256.1,166.3 Q258.5,169.5 258.5,172.7 Q258.3,176 256.1,179.1 L251.3,188.7" stroke="#333" stroke-width="3.38"/>
<path d="M224.2,150.3 Q219,152 217,153.5 Q214.5,155.5 215.4,158.3 Q216.5,161.5 221,162.3 Q227,162.5 233.8,160.7 Q240,159.5 246.5,160.7 Q252.5,162 256.1,166.3 Q258.5,169.5 258.5,172.7 Q258.3,176 256.1,179.1 L251.3,188.7" stroke="#fff" stroke-width="1.30"/>
<path d="M255.5,180 L252,187.5" stroke="#333" stroke-width="4.42"/>
<path d="M255.5,180 L252,187.5" stroke="#fff" stroke-width="2.34"/>
<path d="M250.5,189.5 L248.3,195" stroke="#222" stroke-width="4.68"/>
<path d="M249.8,191.5 L249.2,193" stroke="#ddd" stroke-width="1.95"/>
<path d="M248.3,195 L246.5,202.5" stroke="#333" stroke-width="5.20"/>
<path d="M248.3,195.5 L246.7,202" stroke="#fff" stroke-width="2.86"/>
<path d="M246.3,203 L242.6,216.8 L239.2,230.2" stroke="#333" stroke-width="3.38"/>
<path d="M246.3,203 L242.6,216.8 L239.2,230.2" stroke="#fff" stroke-width="1.30"/>
<path d="M245.2,207 L243.8,212" stroke-width="1.17"/>
<path d="M239.2,230.2 L237.5,243" stroke="#333" stroke-width="3.90"/>
<path d="M239,231.5 L237.8,241" stroke="#fff" stroke-width="1.82"/>
<path d="M237.5,243 L236.6,248.5" stroke="#222" stroke-width="3.90"/>
<path d="M236.5,249 L235.9,256.9" stroke-width="1.56"/>
<path d="M236.2,253 L236,256" stroke="#222" stroke-width="3.90"/>
<path d="M235.7,258 L234.5,263.5" stroke-width="1.30"/>
<circle cx="234.2" cy="265.3" r="1.7" stroke-width="1.30"/>
</g>
<!-- cable 9 -->
<g fill="none" stroke="#161616" stroke-width="1.30" stroke-linejoin="round" stroke-linecap="round">
<path d="M658.5,215.2 L620,236.3 L586,257 Q573,264.8 563,270.3 Q552,275.5 544.7,279.6 Q537,284 531,288.3 L517.5,299" stroke="#444" stroke-width="3.51"/>
<path d="M658.5,215.2 L620,236.3 L586,257 Q573,264.8 563,270.3 Q552,275.5 544.7,279.6 Q537,284 531,288.3 L517.5,299" stroke="#fff" stroke-width="1.49"/>
<path d="M517.7,299 Q498,305.5 489,310.4 Q483,314.5 483.4,318.5 Q484.5,322 489,321 Q497,318 506.9,312 L519.6,299.2" stroke="#555" stroke-width="2.99"/>
<path d="M517.7,299 Q498,305.5 489,310.4 Q483,314.5 483.4,318.5 Q484.5,322 489,321 Q497,318 506.9,312 L519.6,299.2" stroke="#fff" stroke-width="1.17"/>
<path d="M517.7,299 Q528,298 536.8,299.9 L549,304.5" stroke="#444" stroke-width="1.56"/>
<path d="M549,304.5 L557,307.8" stroke="#222" stroke-width="2.34"/>
<path d="M557,307.8 L560.5,309.3" stroke-width="1.17"/>
<circle cx="562" cy="309.9" r="1.5" stroke-width="1.30"/>
<path d="M658.5,215.2 L681.4,205" stroke-width="1.17"/>
<path d="M660,214.5 L668,211" stroke-width="2.08" stroke="#444"/>
<path d="M681.4,205 L698,198.7" stroke="#222" stroke-width="2.86"/>
<path d="M684,203.8 L695,199.7" stroke="#bbb" stroke-width="0.65" stroke-dasharray="1.5 1.5"/>
<path d="M698,198.7 L708,194.9" stroke-width="1.30"/>
<path d="M710.7,191 L738.7,177" stroke="#a8a8a8" stroke-width="3.38" stroke-linecap="butt"/><path d="M710.7,191 L738.7,177" stroke="#4a4a4a" stroke-width="3.64" stroke-dasharray="0.55 1" stroke-linecap="butt"/>
<path d="M708,194 L711,192.5" stroke-width="1.30"/>
<!-- small cylinders -->
<path d="M741.6,171.8 L745.6,169.8 Q747.8,170.5 748.6,173.2 Q749,175.5 747.6,176.8 L743.8,178.4 Q741.6,177.5 741,175 Q740.6,173 741.6,171.8 Z" fill="#f6f6f6" stroke="#333" stroke-width="1.17"/>
<path d="M745.6,169.8 Q744.2,171.5 745,174 Q745.8,176.5 747.6,176.8" stroke="#555" stroke-width="0.91"/>
<path d="M753.2,165.4 L757.8,163.2 Q759.8,163.8 760.6,166.2 Q761,168.5 759.8,169.6 L755.4,171.6 Q753.4,171 752.7,168.6 Q752.3,166.6 753.2,165.4 Z" fill="#f6f6f6" stroke="#333" stroke-width="1.17"/>
<path d="M753.2,165.4 Q755.2,166 755.9,168.4 Q756.3,170.5 755.4,171.6" stroke="#555" stroke-width="0.91"/>
</g>
<!-- group 16 parts -->
<g fill="none" stroke="#161616" stroke-width="1.30" stroke-linejoin="round" stroke-linecap="round">
<!-- bolts 28 -->
<ellipse cx="522.4" cy="367.8" rx="3.2" ry="2.8" fill="#fff" stroke-width="1.69"/>
<path d="M520.8,370.5 L520.8,379.5 L523.8,379.5 L523.8,370.5" stroke="#555" stroke-width="1.30"/>
<path d="M519.2,368.5 L519.4,370.8 L525.4,370.8 L525.6,368.5" stroke-width="1.43"/>
<ellipse cx="515.3" cy="377.7" rx="3.1" ry="2.7" fill="#fff" stroke-width="1.69"/>
<path d="M513.8,380.5 L513.8,389.5 L516.8,389.5 L516.8,380.5" stroke="#555" stroke-width="1.30"/>
<path d="M512.2,378.4 L512.4,380.8 L518.2,380.8 L518.4,378.4" stroke-width="1.43"/>
<ellipse cx="540.3" cy="383.9" rx="2.8" ry="2.4" fill="#ddd" stroke-width="1.95"/>
<path d="M538.9,386.5 L538.9,394 L541.6,394 L541.6,386.5" stroke="#555" stroke-width="1.30"/>
<path d="M539,382.5 L541.5,385.3 M541.5,382.5 L539,385.3" stroke-width="1.04"/>
<!-- bracket -->
<path d="M519.5,397.6 L524.9,393.1 L534,394 L537.6,400.4 L537.6,407.6 L534,408.5 L528.6,402.2 L522.2,400.4 Z" stroke-width="1.82"/>
<path d="M521,399.5 L525.5,395 L533,396 L535.5,401" stroke-width="1.17"/>
<path d="M529.5,400 L534.5,401 L535,406.5" stroke-width="1.56"/>
<circle cx="524" cy="396.8" r="1" stroke-width="1.04"/>
<circle cx="534.8" cy="405" r="1.1" stroke-width="1.17"/>
<!-- clamp -->
<path d="M510.4,414 L515,406.7 L518.5,407.3 L519,405.5 L521.5,405.8 L523.1,406.7 L524,413.1 L521.5,414.5 L518.6,422.2 L511.3,424 L508.6,420.3 Z" stroke-width="1.95"/>
<path d="M515,406.7 L517,412.5 L522,414 M517,412.5 L511,417" stroke-width="1.30"/>
<ellipse cx="513.8" cy="420.2" rx="4" ry="2.8" transform="rotate(-20 513.8 420.2)" fill="#fff" stroke-width="1.69"/>
<path d="M519.5,408.5 L520.5,412" stroke-width="2.08"/>
<!-- master cylinder -->
<path d="M510.1,428.9 L518.2,427.1 L519,425.8 L521.5,426.5 L522.6,432.5 L520.8,439.6 L533.3,446.7 L533.3,453 L523.5,455.6 L512.8,458.3 L509.2,460.1 L503.9,453.8 L503,443.2 L505.7,436.9 Z" stroke-width="1.95"/>
<path d="M510.1,428.9 L511.5,437.5 L520.8,439.6 M511.5,437.5 L505.7,441 M512.3,430 L519.5,428.5 L520.5,433" stroke-width="1.30"/>
<ellipse cx="507" cy="441.5" rx="2.6" ry="3.8" transform="rotate(15 507 441.5)" fill="#fff" stroke-width="1.56"/>
<path d="M505,447.5 L512,444.5 L519,448 L512.8,452.5 L505.5,453.5" stroke-width="1.56"/>
<path d="M512,444.5 L512.8,452.5 M519,448 L519.5,455.5 M520.8,439.6 L519,448 M523.5,447.5 L524,455.5 M527,449 L527.5,454.5" stroke-width="1.30"/>
<path d="M522.5,446.5 L531,446.8 L531.5,452 L524,453.5 Z" fill="#2a2a2a" stroke-width="1.43"/><path d="M525,449 L529.5,448.6 M525.3,451 L529.8,450.6" stroke="#eee" stroke-width="0.91"/>
<path d="M508,456.5 L512,455.5 L513.2,459.5 L509.8,461 Z" fill="#222" stroke-width="1.43"/>
<path d="M504,450 L506.5,451.5 L506,455" stroke-width="2.08"/>
<path d="M514,453.5 L521.5,451.5 L522,455 L515,457 Z" fill="#333" stroke-width="1.17"/>
<!-- lever 15 -->
<path d="M538.6,453.8 L542.2,451.2 L547.5,453 L555.6,464.5 L566.2,462.7 L575.2,462.7 L594.7,466.3 L614.5,472.5" stroke-width="1.56"/>
<path d="M613.5,478.8 L594.7,472.5 L576.9,469.9 L566.2,471.7 L555.6,473.4 L544.9,471.7 L536,469 L536.9,461 L538.6,453.8" stroke-width="1.56"/>
<circle cx="617.6" cy="477.6" r="4.2" fill="#fff" stroke-width="1.43"/>
<path d="M540.5,456 L545.5,455 L553,466 L565.5,465 L576,465 L594,468.5 L612,474.5" stroke-width="1.04"/>
<path d="M537,465 L545,467.5 L555.5,469.5 L566,468.5 L577,467.5" stroke-width="1.17"/>
<path d="M536,469 L538,465.5 L544.9,468 L544.9,471.7" stroke-width="1.30"/>
<path d="M555.6,464.5 L555.6,473.4 M572.5,462.7 L572.5,469.9 M575.2,462.7 L575.5,469.8" stroke-width="1.17"/>
<path d="M542.5,455.5 L544.5,458.5 L547,458" stroke-width="1.30"/>
<circle cx="542.8" cy="454.8" r="1.1" stroke-width="1.04"/>
<path d="M578,466.5 L596,470.5" stroke-width="0.91" stroke="#555"/>
<!-- hose 8 -->
<path d="M498.3,448.5 L493.7,445 Q490,442.5 486.8,442.2 Q482.5,442.3 478.8,444.5 Q474.5,447.5 472,451.3 L466.2,462.8 L461.6,473.1 Q458,477 453.6,478.8 L443.3,481.1" stroke="#666" stroke-width="2.47"/>
<path d="M498.3,448.5 L493.7,445 Q490,442.5 486.8,442.2 Q482.5,442.3 478.8,444.5 Q474.5,447.5 472,451.3 L466.2,462.8 L461.6,473.1 Q458,477 453.6,478.8 L443.3,481.1" stroke="#fff" stroke-width="1.04"/>
<path d="M460.5,474.5 Q456,479.5 451,481.5 L443.9,483.2" stroke="#333" stroke-width="1.56"/>
<path d="M462,472.5 L457.5,477" stroke="#222" stroke-width="2.34"/>
<path d="M496.5,447 L498.6,448.8" stroke="#222" stroke-width="2.34"/>
</g>
<!-- group 29 parts -->
<g fill="none" stroke="#2a2a2a" stroke-width="1.30" stroke-linejoin="round" stroke-linecap="round">
<!-- bolts 30 -->
<ellipse cx="100.4" cy="403.5" rx="2.2" ry="1.7" fill="#aaa" stroke="#444" stroke-width="1.17"/>
<path d="M100.4,405.5 L100.4,414" stroke="#777" stroke-width="2.60" stroke-dasharray="1.3 0.5" stroke-linecap="butt"/>
<ellipse cx="106.3" cy="399.2" rx="2.2" ry="1.7" fill="#aaa" stroke="#444" stroke-width="1.17"/>
<path d="M106.3,401 L106.3,410.5" stroke="#777" stroke-width="2.60" stroke-dasharray="1.3 0.5" stroke-linecap="butt"/>
<!-- clamp 31 -->
<path d="M102,419 L104.5,415.5 L108.5,415 L111,417.5 L110.5,421.5 L108,424 L106.5,427.5 L102.5,428 L101,425 Z" stroke="#2a2a2a" stroke-width="1.49"/>
<path d="M104.5,415.5 L105.5,420.5 L109.5,421.5 M105.5,420.5 L102.5,423.5" stroke-width="1.30"/>
<ellipse cx="104.3" cy="425.3" rx="2.5" ry="1.9" transform="rotate(-20 104.3 425.3)" fill="#fff" stroke="#1a1a1a" stroke-width="1.43"/>
<path d="M108,416.5 L108.8,420" stroke="#1a1a1a" stroke-width="2.08"/>
<!-- bolt 32 -->
<ellipse cx="118.2" cy="424.5" rx="2.1" ry="1.6" fill="#aaa" stroke="#444" stroke-width="1.17"/>
<path d="M118.6,426.5 L119,433.5" stroke="#777" stroke-width="2.47" stroke-dasharray="1.3 0.5" stroke-linecap="butt"/>
<!-- master cyl 34 -->
<path d="M102.5,433.5 L106.5,431.5 L110,432.5 L111.5,436.5 L111,441 L119.5,440.5 L121,444 L118.5,447.5 L113,448.5 L108.5,452 L103.5,450.5 L99.5,446.5 L98.5,441.5 L100,437 Z" stroke="#2a2a2a" stroke-width="1.49"/>
<path d="M102.5,433.5 L103.5,439 L111,441 M103.5,439 L100,441.5" stroke-width="1.30"/>
<ellipse cx="101.3" cy="443" rx="2" ry="2.9" transform="rotate(15 101.3 443)" fill="#fff" stroke="#1a1a1a" stroke-width="1.43"/>
<path d="M101,447 L105.5,445 L110.5,447 L106,450.5" stroke-width="1.43"/>
<path d="M112,442 L119,441.5 L119.5,445.5 L113,447 Z" fill="#888" stroke="#333" stroke-width="1.17"/>
<path d="M104,450 L107.5,449 L108.5,452 L105,452.5 Z" fill="#222" stroke-width="1.30"/>
<path d="M113.5,443.5 L118,443.2 M113.8,445.3 L118,444.8" stroke="#ddd" stroke-width="0.78"/>
<!-- 35 -->
<circle cx="116" cy="453.3" r="1.6" fill="#777" stroke="#555" stroke-width="0.91"/>
<!-- hose 33 -->
<path d="M98.2,431.9 L94.5,429 Q91,427 87.5,428 Q84,429.5 82.5,431.2 Q80,435 77.3,443.1 L72.9,453.5 Q70,456.5 66,457.5 L61,458.7" stroke="#777" stroke-width="2.60"/>
<path d="M98.2,431.9 L94.5,429 Q91,427 87.5,428 Q84,429.5 82.5,431.2 Q80,435 77.3,443.1 L72.9,453.5 Q70,456.5 66,457.5 L61,458.7" stroke="#fff" stroke-width="0.91"/>
<path d="M71,455.5 Q68,458.5 61.5,460.5" stroke="#777" stroke-width="1.17"/>
<path d="M96.5,430.5 L98.5,432.3" stroke="#444" stroke-width="2.08"/>
<!-- 36 -->
<path d="M115.8,464 L119,464 L119.2,465.8 L118.3,466 L118.3,468.5 L116.3,468.5 L116.3,466 L115.5,465.8 Z" fill="#bbb" stroke="#555" stroke-width="1.17"/>
<!-- 37 -->
<path d="M108.8,478.2 L110.5,476.5 L114.7,474.9 L118,477 L124,480.8 L120,482.2 L116,480 L112.5,478.5 L110.5,479.5 L109.5,481.5 Z" stroke="#777" stroke-width="1.30"/>
<path d="M114.7,474.9 L116,480 M118,477 L120,482.2" stroke="#888" stroke-width="1.04"/>
<path d="M109,478 L109.5,481.5" stroke="#666" stroke-width="2.08"/>
<!-- 38 -->
<circle cx="117.5" cy="491" r="1.4" fill="#999" stroke="#666" stroke-width="1.17"/>
<!-- lever 39 -->
<path d="M86.9,504 L94.9,496.7 L99.5,497.4 L100.2,503.3 L112.1,504.7 L126.7,510 L135.2,516" stroke="#808080" stroke-width="1.17"/>
<path d="M131,518.8 L114.7,512 L101.5,511.3 L89.6,509.3 L86.9,504" stroke="#808080" stroke-width="1.17"/>
<circle cx="133.9" cy="519.4" r="3" fill="#fff" stroke="#777" stroke-width="1.17"/>
<path d="M89,504.5 L95.5,499 L97.5,505 L111,506.5 L126,512" stroke="#aaa" stroke-width="0.91"/>
<path d="M94.9,496.7 L97,495.5 L99.5,497.4" fill="#777" stroke="#666" stroke-width="1.17"/>
<path d="M126.5,511.5 L131.5,516.5 M128.5,511 L133,515.5 M125,513 L130,517.5" stroke="#666" stroke-width="1.04"/>
<path d="M93.5,502.5 L95,505" stroke="#777" stroke-width="1.04"/>
</g>
<!-- misc small parts -->
<defs><g id="scr"><path d="M-2.8,1.2 L0.2,-0.2 M-2.5,2.2 L0.8,0.8" stroke="#555" stroke-width="1.30"/><path d="M0,-1.8 L2.6,-2.3 L3.2,0.6 L1,1.8 Z" fill="#888" stroke="#222" stroke-width="1.17"/></g></defs>
<g fill="none" stroke="#161616" stroke-width="1.30" stroke-linejoin="round" stroke-linecap="round">
<!-- bolt 21 -->
<path d="M336.5,329.2 L359.5,323.4 M337.3,332.3 L360.3,326.4" stroke-width="1.30"/>
<path d="M348,327.5 L360,324.8" stroke="#444" stroke-width="3.38" stroke-dasharray="1 0.9" stroke-linecap="butt"/>
<ellipse cx="331.8" cy="333" rx="4.9" ry="4.4" fill="#fff" stroke-width="1.95"/>
<path d="M331,328.8 Q335.5,329.5 336.3,333.5 M333.5,331.5 L334.2,335" stroke-width="1.17" stroke="#666"/>
<path d="M336,330 L337.8,333.3" stroke-width="1.69"/>
<!-- 12 -->
<path d="M367.5,316.8 L372.5,315 Q376.5,315.5 377.3,318.5 Q377.5,321.3 375,322.8 L371,324.5" stroke-width="1.69"/>
<ellipse cx="369" cy="320.3" rx="3.1" ry="4.2" transform="rotate(-25 369 320.3)" fill="#fff" stroke-width="1.69"/>
<path d="M368,318 L370.5,321.5" stroke-width="1.04"/>
<!-- 22 -->
<path d="M671.5,116.8 L678,114.3 L679,117.5 L672.5,120 Z" fill="#555" stroke-width="1.69"/>
<ellipse cx="681" cy="115.4" rx="3.3" ry="3.9" transform="rotate(-20 681 115.4)" fill="#ddd" stroke-width="1.82"/>
<path d="M680,113 L682,118" stroke="#777" stroke-width="1.30"/>
<!-- small screws -->

</g>
<g fill="none" stroke="#161616" stroke-linejoin="round" stroke-linecap="round">
<use href="#scr" x="537.5" y="61"/>
<use href="#scr" x="582" y="82.6"/>
<use href="#scr" x="612.5" y="104.6"/>
<use href="#scr" x="644" y="124.3"/>
<!-- 27a -->
<path d="M480.8,148.2 L483.5,148.5 L483.8,151 L481,151.2 Z" fill="#666" stroke-width="1.17"/>
<path d="M483.8,149.5 L487.2,150.8" stroke="#444" stroke-width="1.69"/>
<!-- 27b -->
<path d="M592.5,200.2 L598,204" stroke="#333" stroke-width="2.08"/>
<path d="M596.5,202 L599,203.2 L598.3,205.8 L596,205 Z" fill="#555" stroke-width="1.17"/>
<!-- 25 -->
<path d="M360.8,190.3 L363.5,189.5 L364,193.5 L361.5,194 Z" fill="#999" stroke="#333" stroke-width="1.17"/>
<path d="M363.5,190 L367.5,188.7" stroke="#444" stroke-width="1.56"/>
<!-- 23 -->
<path d="M147.2,359.5 L151,359.8 L153.6,362.5 L153.3,367 L150,369.2 L147,368.5 Z" fill="#555" stroke="#222" stroke-width="1.43"/>
<path d="M148.2,361.5 L150.8,363.3 L150.3,367" stroke="#aaa" stroke-width="1.04"/>
</g>

<g fill="none" stroke="#000" stroke-width="1">
<polyline points="232.5,18.5 195.5,45.5 195.5,79.5"/>
<polyline points="276.5,39.5 305.5,39.5"/>
<polyline points="290.5,39.5 290.5,61.5"/>
<polyline points="337.5,93.5 337.5,103.5"/>
<polyline points="288.5,120.5 309.5,120.5"/>
<polyline points="392.5,90.5 416.5,90.5"/>
<polyline points="206.5,192.5 246.5,192.5"/>
<polyline points="362.5,192.5 362.5,240.5"/>
<polyline points="612.5,61.5 612.5,102.5"/>
<polyline points="679.5,61.5 679.5,114.5"/>
<polyline points="712.5,123.5 712.5,149.5"/>
<polyline points="684.5,149.5 755.5,149.5"/>
<polyline points="684.5,149.5 684.5,203.5"/>
<polyline points="723.5,149.5 723.5,182.5"/>
<polyline points="742.5,149.5 742.5,169.5"/>
<polyline points="755.5,149.5 755.5,163.5"/>
<polyline points="482.5,150.5 482.5,186.5"/>
<polyline points="545.5,186.5 545.5,211.5"/>
<polyline points="577.5,228.5 577.5,215.5 597.5,204.5"/>
<polyline points="452.5,206.5 452.5,239.5"/>
<polyline points="642.5,261.5 642.5,275.5"/>
<polyline points="690.5,259.5 709.5,259.5"/>
<polyline points="600.5,321.5 610.5,321.5"/>
<polyline points="467.5,300.5 467.5,329.5"/>
<polyline points="703.5,336.5 703.5,393.5"/>
<polyline points="747.5,343.5 747.5,393.5"/>
<polyline points="263.5,299.5 263.5,321.5"/>
<polyline points="330.5,299.5 330.5,328.5"/>
<polyline points="369.5,324.5 369.5,345.5"/>
<polyline points="55.5,320.5 55.5,291.5 80.5,268.5"/>
<polyline points="50.5,374.5 50.5,380.5"/>
<polyline points="105.5,363.5 147.5,363.5"/>
<polyline points="107.5,406.5 169.5,406.5"/>
<polyline points="60.5,421.5 101.5,421.5"/>
<polyline points="119.5,432.5 169.5,432.5"/>
<polyline points="60.5,443.5 74.5,443.5"/>
<polyline points="120.5,442.5 201.5,442.5"/>
<polyline points="118.5,453.5 169.5,453.5"/>
<polyline points="92.5,467.5 115.5,467.5"/>
<polyline points="124.5,481.5 169.5,481.5"/>
<polyline points="60.5,491.5 116.5,491.5"/>
<polyline points="125.5,509.5 169.5,509.5"/>
<polyline points="374.5,413.5 374.5,459.5"/>
<polyline points="496.5,370.5 519.5,370.5"/>
<polyline points="480.5,445.5 480.5,492.5"/>
<polyline points="577.5,469.5 577.5,492.5"/>
<polyline points="632.5,488.5 688.5,488.5"/>
<polyline points="258.5,95.5 318.5,95.5 318.5,62.5 392.5,62.5 392.5,140.5 337.5,140.5 337.5,218.5 268.5,218.5 268.5,143.5 257.5,107.5 257.5,95.5"/>
<polyline points="633.5,235.5 690.5,235.5 690.5,301.5 662.5,301.5 617.5,422.5 577.5,422.5 577.5,291.5 622.5,270.5 633.5,235.5"/>
<polyline points="488.5,346.5 555.5,346.5 555.5,447.5 632.5,447.5 632.5,520.5 422.5,520.5 422.5,434.5 463.5,409.5 463.5,366.5 488.5,346.5"/>
<polyline points="36.5,380.5 149.5,380.5 149.5,527.5 36.5,527.5 36.5,380.5"/>
</g>
<g style="opacity:0.999">
<g transform="translate(187,184)"><rect width="19" height="19" fill="#6e6e6e"/><rect width="18" height="18" fill="#a2a2a2"/><rect width="17" height="17" fill="#dadada"/><rect x="1" y="1" width="16" height="16" fill="#fbfbfb"/><rect x="2" y="2" width="15" height="15" fill="#ebebeb"/><text transform="translate(9.6,13.7) scale(0.86,1)">1</text></g>
<g transform="translate(329,74)"><rect width="19" height="19" fill="#6e6e6e"/><rect width="18" height="18" fill="#a2a2a2"/><rect width="17" height="17" fill="#dadada"/><rect x="1" y="1" width="16" height="16" fill="#fbfbfb"/><rect x="2" y="2" width="15" height="15" fill="#ebebeb"/><text transform="translate(9.6,13.7) scale(0.86,1)">2</text></g>
<g transform="translate(269,112)"><rect width="19" height="19" fill="#6e6e6e"/><rect width="18" height="18" fill="#a2a2a2"/><rect width="17" height="17" fill="#dadada"/><rect x="1" y="1" width="16" height="16" fill="#fbfbfb"/><rect x="2" y="2" width="15" height="15" fill="#ebebeb"/><text transform="translate(9.6,13.7) scale(0.86,1)">3</text></g>
<g transform="translate(416,82)"><rect width="19" height="19" fill="#6e6e6e"/><rect width="18" height="18" fill="#a2a2a2"/><rect width="17" height="17" fill="#dadada"/><rect x="1" y="1" width="16" height="16" fill="#fbfbfb"/><rect x="2" y="2" width="15" height="15" fill="#ebebeb"/><text transform="translate(9.6,13.7) scale(0.86,1)">4</text></g>
<g transform="translate(634,243)"><rect width="19" height="19" fill="#6e6e6e"/><rect width="18" height="18" fill="#a2a2a2"/><rect width="17" height="17" fill="#dadada"/><rect x="1" y="1" width="16" height="16" fill="#fbfbfb"/><rect x="2" y="2" width="15" height="15" fill="#ebebeb"/><text transform="translate(9.6,13.7) scale(0.86,1)">5</text></g>
<g transform="translate(581,313)"><rect width="19" height="19" fill="#6e6e6e"/><rect width="18" height="18" fill="#a2a2a2"/><rect width="17" height="17" fill="#dadada"/><rect x="1" y="1" width="16" height="16" fill="#fbfbfb"/><rect x="2" y="2" width="15" height="15" fill="#ebebeb"/><text transform="translate(9.6,13.7) scale(0.86,1)">6</text></g>
<g transform="translate(709,251)"><rect width="19" height="19" fill="#6e6e6e"/><rect width="18" height="18" fill="#a2a2a2"/><rect width="17" height="17" fill="#dadada"/><rect x="1" y="1" width="16" height="16" fill="#fbfbfb"/><rect x="2" y="2" width="15" height="15" fill="#ebebeb"/><text transform="translate(9.6,13.7) scale(0.86,1)">7</text></g>
<g transform="translate(472,492)"><rect width="19" height="19" fill="#6e6e6e"/><rect width="18" height="18" fill="#a2a2a2"/><rect width="17" height="17" fill="#dadada"/><rect x="1" y="1" width="16" height="16" fill="#fbfbfb"/><rect x="2" y="2" width="15" height="15" fill="#ebebeb"/><text transform="translate(9.6,13.7) scale(0.86,1)">8</text></g>
<g transform="translate(704,104)"><rect width="19" height="19" fill="#6e6e6e"/><rect width="18" height="18" fill="#a2a2a2"/><rect width="17" height="17" fill="#dadada"/><rect x="1" y="1" width="16" height="16" fill="#fbfbfb"/><rect x="2" y="2" width="15" height="15" fill="#ebebeb"/><text transform="translate(9.6,13.7) scale(0.86,1)">9</text></g>
<g transform="translate(444,187)"><rect width="19" height="19" fill="#6e6e6e"/><rect width="18" height="18" fill="#a2a2a2"/><rect width="17" height="17" fill="#dadada"/><rect x="1" y="1" width="16" height="16" fill="#fbfbfb"/><rect x="2" y="2" width="15" height="15" fill="#ebebeb"/><text transform="translate(9.6,13.7) scale(0.86,1)">10</text></g>
<g transform="translate(187,79)"><rect width="19" height="19" fill="#6e6e6e"/><rect width="18" height="18" fill="#a2a2a2"/><rect width="17" height="17" fill="#dadada"/><rect x="1" y="1" width="16" height="16" fill="#fbfbfb"/><rect x="2" y="2" width="15" height="15" fill="#ebebeb"/><text transform="translate(9.6,13.7) scale(0.86,1)">11</text></g>
<g transform="translate(739,394)"><rect width="19" height="19" fill="#6e6e6e"/><rect width="18" height="18" fill="#a2a2a2"/><rect width="17" height="17" fill="#dadada"/><rect x="1" y="1" width="16" height="16" fill="#fbfbfb"/><rect x="2" y="2" width="15" height="15" fill="#ebebeb"/><text transform="translate(9.6,13.7) scale(0.86,1)">11</text></g>
<g transform="translate(361,345)"><rect width="19" height="19" fill="#6e6e6e"/><rect width="18" height="18" fill="#a2a2a2"/><rect width="17" height="17" fill="#dadada"/><rect x="1" y="1" width="16" height="16" fill="#fbfbfb"/><rect x="2" y="2" width="15" height="15" fill="#ebebeb"/><text transform="translate(9.6,13.7) scale(0.86,1)">12</text></g>
<g transform="translate(305,31)"><rect width="19" height="19" fill="#6e6e6e"/><rect width="18" height="18" fill="#a2a2a2"/><rect width="17" height="17" fill="#dadada"/><rect x="1" y="1" width="16" height="16" fill="#fbfbfb"/><rect x="2" y="2" width="15" height="15" fill="#ebebeb"/><text transform="translate(9.6,13.7) scale(0.86,1)">13</text></g>
<g transform="translate(695,394)"><rect width="19" height="19" fill="#6e6e6e"/><rect width="18" height="18" fill="#a2a2a2"/><rect width="17" height="17" fill="#dadada"/><rect x="1" y="1" width="16" height="16" fill="#fbfbfb"/><rect x="2" y="2" width="15" height="15" fill="#ebebeb"/><text transform="translate(9.6,13.7) scale(0.86,1)">14</text></g>
<g transform="translate(569,492)"><rect width="19" height="19" fill="#6e6e6e"/><rect width="18" height="18" fill="#a2a2a2"/><rect width="17" height="17" fill="#dadada"/><rect x="1" y="1" width="16" height="16" fill="#fbfbfb"/><rect x="2" y="2" width="15" height="15" fill="#ebebeb"/><text transform="translate(9.6,13.7) scale(0.86,1)">15</text></g>
<g transform="translate(688,480)"><rect width="19" height="19" fill="#6e6e6e"/><rect width="18" height="18" fill="#a2a2a2"/><rect width="17" height="17" fill="#dadada"/><rect x="1" y="1" width="16" height="16" fill="#fbfbfb"/><rect x="2" y="2" width="15" height="15" fill="#ebebeb"/><text transform="translate(9.6,13.7) scale(0.86,1)">16</text></g>
<g transform="translate(255,280)"><rect width="19" height="19" fill="#6e6e6e"/><rect width="18" height="18" fill="#a2a2a2"/><rect width="17" height="17" fill="#dadada"/><rect x="1" y="1" width="16" height="16" fill="#fbfbfb"/><rect x="2" y="2" width="15" height="15" fill="#ebebeb"/><text transform="translate(9.6,13.7) scale(0.86,1)">17</text></g>
<g transform="translate(537,211)"><rect width="19" height="19" fill="#6e6e6e"/><rect width="18" height="18" fill="#a2a2a2"/><rect width="17" height="17" fill="#dadada"/><rect x="1" y="1" width="16" height="16" fill="#fbfbfb"/><rect x="2" y="2" width="15" height="15" fill="#ebebeb"/><text transform="translate(9.6,13.7) scale(0.86,1)">18</text></g>
<g transform="translate(47,321)"><rect width="19" height="19" fill="#6e6e6e"/><rect width="18" height="18" fill="#a2a2a2"/><rect width="17" height="17" fill="#dadada"/><rect x="1" y="1" width="16" height="16" fill="#fbfbfb"/><rect x="2" y="2" width="15" height="15" fill="#ebebeb"/><text transform="translate(9.6,13.7) scale(0.86,1)">19</text></g>
<g transform="translate(366,459)"><rect width="19" height="19" fill="#6e6e6e"/><rect width="18" height="18" fill="#a2a2a2"/><rect width="17" height="17" fill="#dadada"/><rect x="1" y="1" width="16" height="16" fill="#fbfbfb"/><rect x="2" y="2" width="15" height="15" fill="#ebebeb"/><text transform="translate(9.6,13.7) scale(0.86,1)">20</text></g>
<g transform="translate(322,280)"><rect width="19" height="19" fill="#6e6e6e"/><rect width="18" height="18" fill="#a2a2a2"/><rect width="17" height="17" fill="#dadada"/><rect x="1" y="1" width="16" height="16" fill="#fbfbfb"/><rect x="2" y="2" width="15" height="15" fill="#ebebeb"/><text transform="translate(9.6,13.7) scale(0.86,1)">21</text></g>
<g transform="translate(671,42)"><rect width="19" height="19" fill="#6e6e6e"/><rect width="18" height="18" fill="#a2a2a2"/><rect width="17" height="17" fill="#dadada"/><rect x="1" y="1" width="16" height="16" fill="#fbfbfb"/><rect x="2" y="2" width="15" height="15" fill="#ebebeb"/><text transform="translate(9.6,13.7) scale(0.86,1)">22</text></g>
<g transform="translate(86,355)"><rect width="19" height="19" fill="#6e6e6e"/><rect width="18" height="18" fill="#a2a2a2"/><rect width="17" height="17" fill="#dadada"/><rect x="1" y="1" width="16" height="16" fill="#fbfbfb"/><rect x="2" y="2" width="15" height="15" fill="#ebebeb"/><text transform="translate(9.6,13.7) scale(0.86,1)">23</text></g>
<g transform="translate(459,330)"><rect width="19" height="19" fill="#6e6e6e"/><rect width="18" height="18" fill="#a2a2a2"/><rect width="17" height="17" fill="#dadada"/><rect x="1" y="1" width="16" height="16" fill="#fbfbfb"/><rect x="2" y="2" width="15" height="15" fill="#ebebeb"/><text transform="translate(9.6,13.7) scale(0.86,1)">24</text></g>
<g transform="translate(354,240)"><rect width="19" height="19" fill="#6e6e6e"/><rect width="18" height="18" fill="#a2a2a2"/><rect width="17" height="17" fill="#dadada"/><rect x="1" y="1" width="16" height="16" fill="#fbfbfb"/><rect x="2" y="2" width="15" height="15" fill="#ebebeb"/><text transform="translate(9.6,13.7) scale(0.86,1)">25</text></g>
<g transform="translate(604,42)"><rect width="19" height="19" fill="#6e6e6e"/><rect width="18" height="18" fill="#a2a2a2"/><rect width="17" height="17" fill="#dadada"/><rect x="1" y="1" width="16" height="16" fill="#fbfbfb"/><rect x="2" y="2" width="15" height="15" fill="#ebebeb"/><text transform="translate(9.6,13.7) scale(0.86,1)">26</text></g>
<g transform="translate(474,187)"><rect width="19" height="19" fill="#6e6e6e"/><rect width="18" height="18" fill="#a2a2a2"/><rect width="17" height="17" fill="#dadada"/><rect x="1" y="1" width="16" height="16" fill="#fbfbfb"/><rect x="2" y="2" width="15" height="15" fill="#ebebeb"/><text transform="translate(9.6,13.7) scale(0.86,1)">27</text></g>
<g transform="translate(569,229)"><rect width="19" height="19" fill="#6e6e6e"/><rect width="18" height="18" fill="#a2a2a2"/><rect width="17" height="17" fill="#dadada"/><rect x="1" y="1" width="16" height="16" fill="#fbfbfb"/><rect x="2" y="2" width="15" height="15" fill="#ebebeb"/><text transform="translate(9.6,13.7) scale(0.86,1)">27</text></g>
<g transform="translate(477,362)"><rect width="19" height="19" fill="#6e6e6e"/><rect width="18" height="18" fill="#a2a2a2"/><rect width="17" height="17" fill="#dadada"/><rect x="1" y="1" width="16" height="16" fill="#fbfbfb"/><rect x="2" y="2" width="15" height="15" fill="#ebebeb"/><text transform="translate(9.6,13.7) scale(0.86,1)">28</text></g>
<g transform="translate(41,355)"><rect width="19" height="19" fill="#6e6e6e"/><rect width="18" height="18" fill="#a2a2a2"/><rect width="17" height="17" fill="#dadada"/><rect x="1" y="1" width="16" height="16" fill="#fbfbfb"/><rect x="2" y="2" width="15" height="15" fill="#ebebeb"/><text transform="translate(9.6,13.7) scale(0.86,1)">29</text></g>
<g transform="translate(169,394)"><rect width="19" height="19" fill="#6e6e6e"/><rect width="18" height="18" fill="#a2a2a2"/><rect width="17" height="17" fill="#dadada"/><rect x="1" y="1" width="16" height="16" fill="#fbfbfb"/><rect x="2" y="2" width="15" height="15" fill="#ebebeb"/><text transform="translate(9.6,13.7) scale(0.86,1)">30</text></g>
<g transform="translate(41,411)"><rect width="19" height="19" fill="#6e6e6e"/><rect width="18" height="18" fill="#a2a2a2"/><rect width="17" height="17" fill="#dadada"/><rect x="1" y="1" width="16" height="16" fill="#fbfbfb"/><rect x="2" y="2" width="15" height="15" fill="#ebebeb"/><text transform="translate(9.6,13.7) scale(0.86,1)">31</text></g>
<g transform="translate(169,419)"><rect width="19" height="19" fill="#6e6e6e"/><rect width="18" height="18" fill="#a2a2a2"/><rect width="17" height="17" fill="#dadada"/><rect x="1" y="1" width="16" height="16" fill="#fbfbfb"/><rect x="2" y="2" width="15" height="15" fill="#ebebeb"/><text transform="translate(9.6,13.7) scale(0.86,1)">32</text></g>
<g transform="translate(41,435)"><rect width="19" height="19" fill="#6e6e6e"/><rect width="18" height="18" fill="#a2a2a2"/><rect width="17" height="17" fill="#dadada"/><rect x="1" y="1" width="16" height="16" fill="#fbfbfb"/><rect x="2" y="2" width="15" height="15" fill="#ebebeb"/><text transform="translate(9.6,13.7) scale(0.86,1)">33</text></g>
<g transform="translate(201,435)"><rect width="19" height="19" fill="#6e6e6e"/><rect width="18" height="18" fill="#a2a2a2"/><rect width="17" height="17" fill="#dadada"/><rect x="1" y="1" width="16" height="16" fill="#fbfbfb"/><rect x="2" y="2" width="15" height="15" fill="#ebebeb"/><text transform="translate(9.6,13.7) scale(0.86,1)">34</text></g>
<g transform="translate(169,451)"><rect width="19" height="19" fill="#6e6e6e"/><rect width="18" height="18" fill="#a2a2a2"/><rect width="17" height="17" fill="#dadada"/><rect x="1" y="1" width="16" height="16" fill="#fbfbfb"/><rect x="2" y="2" width="15" height="15" fill="#ebebeb"/><text transform="translate(9.6,13.7) scale(0.86,1)">35</text></g>
<g transform="translate(73,458)"><rect width="19" height="19" fill="#6e6e6e"/><rect width="18" height="18" fill="#a2a2a2"/><rect width="17" height="17" fill="#dadada"/><rect x="1" y="1" width="16" height="16" fill="#fbfbfb"/><rect x="2" y="2" width="15" height="15" fill="#ebebeb"/><text transform="translate(9.6,13.7) scale(0.86,1)">36</text></g>
<g transform="translate(169,475)"><rect width="19" height="19" fill="#6e6e6e"/><rect width="18" height="18" fill="#a2a2a2"/><rect width="17" height="17" fill="#dadada"/><rect x="1" y="1" width="16" height="16" fill="#fbfbfb"/><rect x="2" y="2" width="15" height="15" fill="#ebebeb"/><text transform="translate(9.6,13.7) scale(0.86,1)">37</text></g>
<g transform="translate(41,483)"><rect width="19" height="19" fill="#6e6e6e"/><rect width="18" height="18" fill="#a2a2a2"/><rect width="17" height="17" fill="#dadada"/><rect x="1" y="1" width="16" height="16" fill="#fbfbfb"/><rect x="2" y="2" width="15" height="15" fill="#ebebeb"/><text transform="translate(9.6,13.7) scale(0.86,1)">38</text></g>
<g transform="translate(169,499)"><rect width="19" height="19" fill="#6e6e6e"/><rect width="18" height="18" fill="#a2a2a2"/><rect width="17" height="17" fill="#dadada"/><rect x="1" y="1" width="16" height="16" fill="#fbfbfb"/><rect x="2" y="2" width="15" height="15" fill="#ebebeb"/><text transform="translate(9.6,13.7) scale(0.86,1)">39</text></g>
</g>
</svg>
</body></html>
